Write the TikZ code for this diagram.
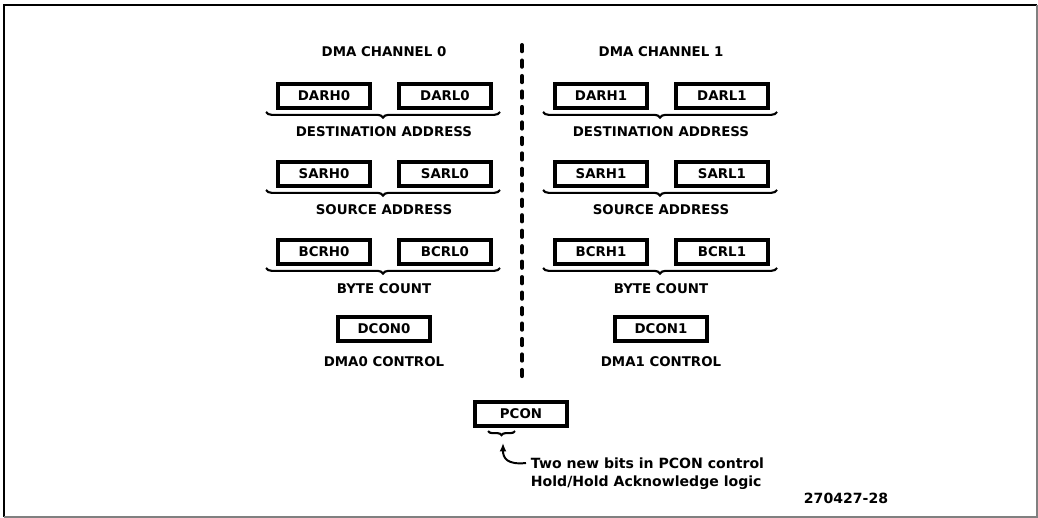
\documentclass[tikz,border=0pt]{standalone}
\usepackage{fontspec}
\setmainfont{DejaVu Sans}
\usetikzlibrary{decorations.pathreplacing, arrows.meta}

\begin{document}
\begin{tikzpicture}[x=0.025cm, y=-0.025cm, font=\bfseries\fontsize{9.5}{11}\selectfont,
    reg/.style={draw, line width=2.4pt, minimum width=2.3cm, minimum height=0.6cm, inner sep=0pt},
    grp/.style={decorate, decoration={brace, mirror, amplitude=4pt}, line width=1.5pt}]
  \useasboundingbox (0,0) rectangle (1038,518);
  \draw[line width=1.8pt] (4,517) -- (4,5) -- (1037,5);
  \draw[gray, line width=1pt] (4,517) -- (1037,517) -- (1037,5);
  \draw[line width=2.8pt, line cap=round, dash pattern=on 4.5pt off 6.5pt] (522,45) -- (522,384);
  \foreach \c/\x in {0/384, 1/661} {
    \node (hdr\c) at (\x,52) {DMA CHANNEL \c};
    \node[reg] (darh\c) at (\x-60,96) {DARH\c};
    \node[reg] (darl\c) at (\x+61,96) {DARL\c};
    \draw[grp] (\x-118,112) -- (\x+116,112);
    \node (dest\c) at (\x,132) {DESTINATION ADDRESS};
    \node[reg] (sarh\c) at (\x-60,174) {SARH\c};
    \node[reg] (sarl\c) at (\x+61,174) {SARL\c};
    \draw[grp] (\x-118,190) -- (\x+116,190);
    \node (src\c) at (\x,210) {SOURCE ADDRESS};
    \node[reg] (bcrh\c) at (\x-60,252) {BCRH\c};
    \node[reg] (bcrl\c) at (\x+61,252) {BCRL\c};
    \draw[grp] (\x-118,268) -- (\x+116,268);
    \node (cnt\c) at (\x,289) {BYTE COUNT};
    \node[reg] (dcon\c) at (\x,329) {DCON\c};
    \node (ctl\c) at (\x,362) {DMA\c{} CONTROL};
  }
  \node[reg] (pcon) at (521,414) {PCON};
  \draw[grp, decoration={amplitude=3pt}] (488,431) -- (515,431);
  \coordinate (bits) at (503,443);
  \node[anchor=west, font=\bfseries\fontsize{10}{12}\selectfont] (note1) at (526,463) {Two new bits in PCON control};
  \node[anchor=west, font=\bfseries\fontsize{10}{12}\selectfont] (note2) at (526,483) {Hold/Hold Acknowledge logic};
  \draw[line width=1.4pt, -{Latex[length=6pt, width=5pt]}] (note1.west) .. controls (507,465) and (503,458) .. (bits);
  \node[font=\bfseries\fontsize{10}{12}\selectfont] (fig) at (846,498) {270427-28};
\end{tikzpicture}
\end{document}
